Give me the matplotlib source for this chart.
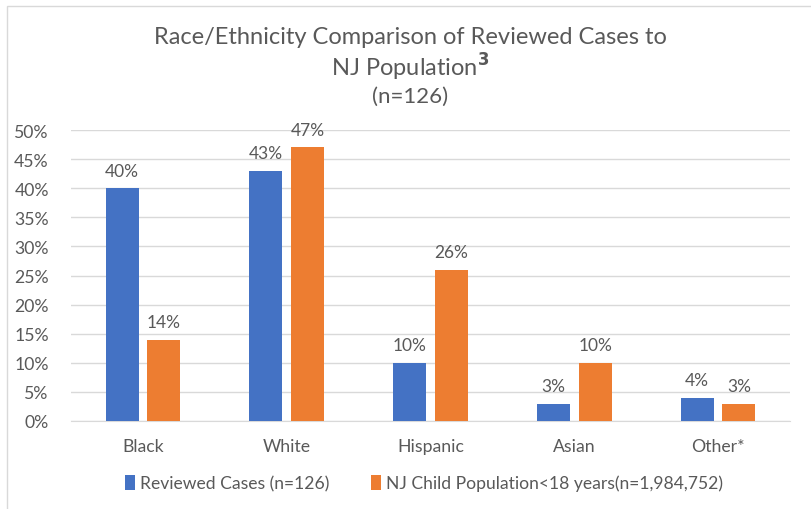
import numpy as np
import matplotlib.pyplot as plt
from matplotlib.patches import Rectangle

plt.rcParams['font.family'] = ['Lato', 'DejaVu Sans']

categories = ["Black", "White", "Hispanic", "Asian", "Other*"]
reviewed = [40, 43, 10, 3, 4]
nj_pop = [14, 47, 26, 10, 3]
yticks = [0, 5, 10, 15, 20, 25, 30, 35, 40, 45, 50]

blue = "#4472C4"
orange = "#ED7D31"
grey = "#595959"

fig = plt.figure(figsize=(8.11, 5.10), dpi=100)
ax = fig.add_axes([71/811, 1 - 422/510, 719/811, 291/510])

x = np.arange(len(categories))
w = 0.23
b1 = ax.bar(x - 0.145, reviewed, w, color=blue, label="Reviewed Cases (n=126)", zorder=3)
b2 = ax.bar(x + 0.145, nj_pop, w, color=orange,
            label="NJ Child Population<18 years(n=1,984,752)", zorder=3)

for bars, vals in ((b1, reviewed), (b2, nj_pop)):
    for r, v in zip(bars, vals):
        ax.text(r.get_x() + r.get_width() / 2, v + 1.6, f"{v}%",
                ha="center", va="bottom", fontsize=12.5, color=grey)

ax.set_xlim(-0.5, len(categories) - 0.5)
ax.set_ylim(0, 50)
ax.set_yticks(yticks)
ax.set_yticklabels([f"{t}%" for t in yticks])
ax.set_xticks(x)
ax.set_xticklabels(categories)
ax.tick_params(axis="both", length=0, labelsize=12.7, colors=grey)
ax.tick_params(axis="x", pad=12)
ax.tick_params(axis="y", pad=16)
ax.grid(axis="y", color="#D9D9D9", linewidth=1, zorder=0)
for s in ["top", "right", "left"]:
    ax.spines[s].set_visible(False)
ax.spines["bottom"].set_color("#D9D9D9")

fig.text(410/811, 1 - 38/510, "Race/Ethnicity Comparison of Reviewed Cases to",
         ha="center", va="center", fontsize=17, color=grey)
fig.text(410/811, 1 - 67/510, r"NJ Population$^{\mathbf{3}}$",
         ha="center", va="center", fontsize=17, color=grey)
fig.text(410/811, 1 - 97/510, "(n=126)",
         ha="center", va="center", fontsize=16, color=grey)

fig.legend(handles=[b1, b2], loc="center", bbox_to_anchor=(424/811, 1 - 484/510),
           ncol=2, frameon=False, fontsize=12.6, labelcolor=grey,
           handlelength=0.55, handleheight=0.9, handletextpad=0.3, columnspacing=2.4)

fig.patches.append(Rectangle((7/811, -0.1), 1.2, 1.1 - 7/510, transform=fig.transFigure,
                             fill=False, edgecolor="#D9D9D9", linewidth=1))

fig.savefig("out.png", dpi=100)
